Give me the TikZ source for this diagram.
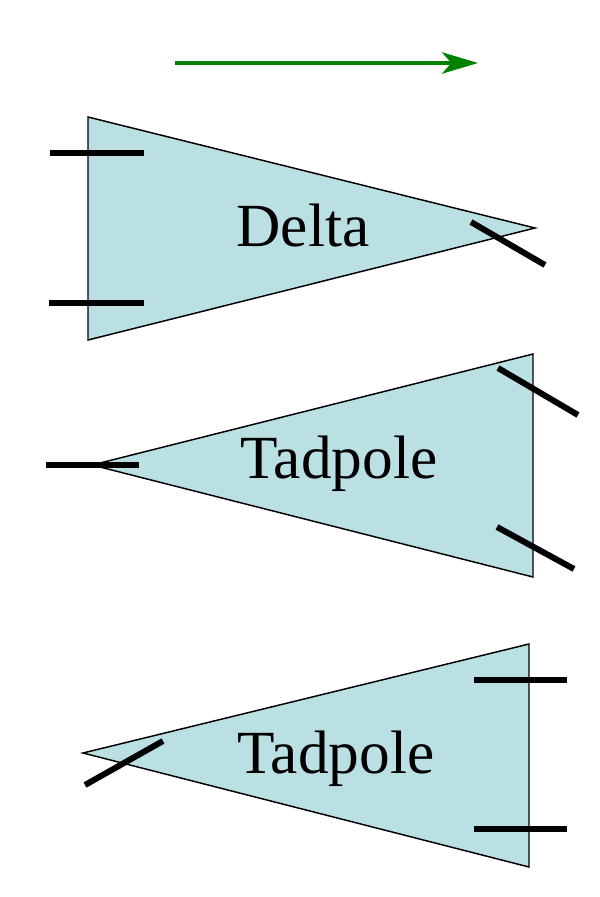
\documentclass[tikz,border=0pt]{standalone}
\usepackage{fontspec}
\setmainfont{Liberation Serif}
\usetikzlibrary{arrows.meta}
\definecolor{wingfill}{RGB}{187,224,227}
\definecolor{flowgreen}{RGB}{0,130,0}

\begin{document}
\begin{tikzpicture}[x=0.75pt,y=-0.75pt,
  wing/.style={fill=wingfill,draw=black,line width=1.1pt},
  tick/.style={line width=4.5pt},
  label/.style={font=\fontsize{46}{55}\selectfont,inner sep=0pt,anchor=base}]
\useasboundingbox (0,0) rectangle (600,897);

% Flow direction
\coordinate (flowA) at (175,63);
\coordinate (flowB) at (478,63);
\draw[-{Stealth[length=27pt,width=16pt,inset=7pt]},flowgreen,line width=2.7pt] (flowA) -- (flowB);

% Delta
\draw[wing] (88,117) -- (535,228) -- (88,340) -- cycle;
\node[label] (delta) at (303,246) {Delta};
\draw[tick] (50,153) -- (144,153);
\draw[tick] (49,303) -- (144,303);
\draw[tick] (471,222) -- (545,265);

% Tadpole, ticks at the back
\draw[wing] (533,354) -- (92,465) -- (533,577) -- cycle;
\node[label] (tadpoleA) at (339,478) {Tadpole};
\draw[tick] (46,465) -- (139,465);
\draw[tick] (498,368) -- (578,415);
\draw[tick] (497,527) -- (574,569);

% Tadpole, ticks straight
\draw[wing] (529,644) -- (83,753) -- (529,867) -- cycle;
\node[label] (tadpoleB) at (336,773) {Tadpole};
\draw[tick] (85,785) -- (163,741);
\draw[tick] (474,680) -- (567,680);
\draw[tick] (474,829) -- (567,829);
\end{tikzpicture}
\end{document}
